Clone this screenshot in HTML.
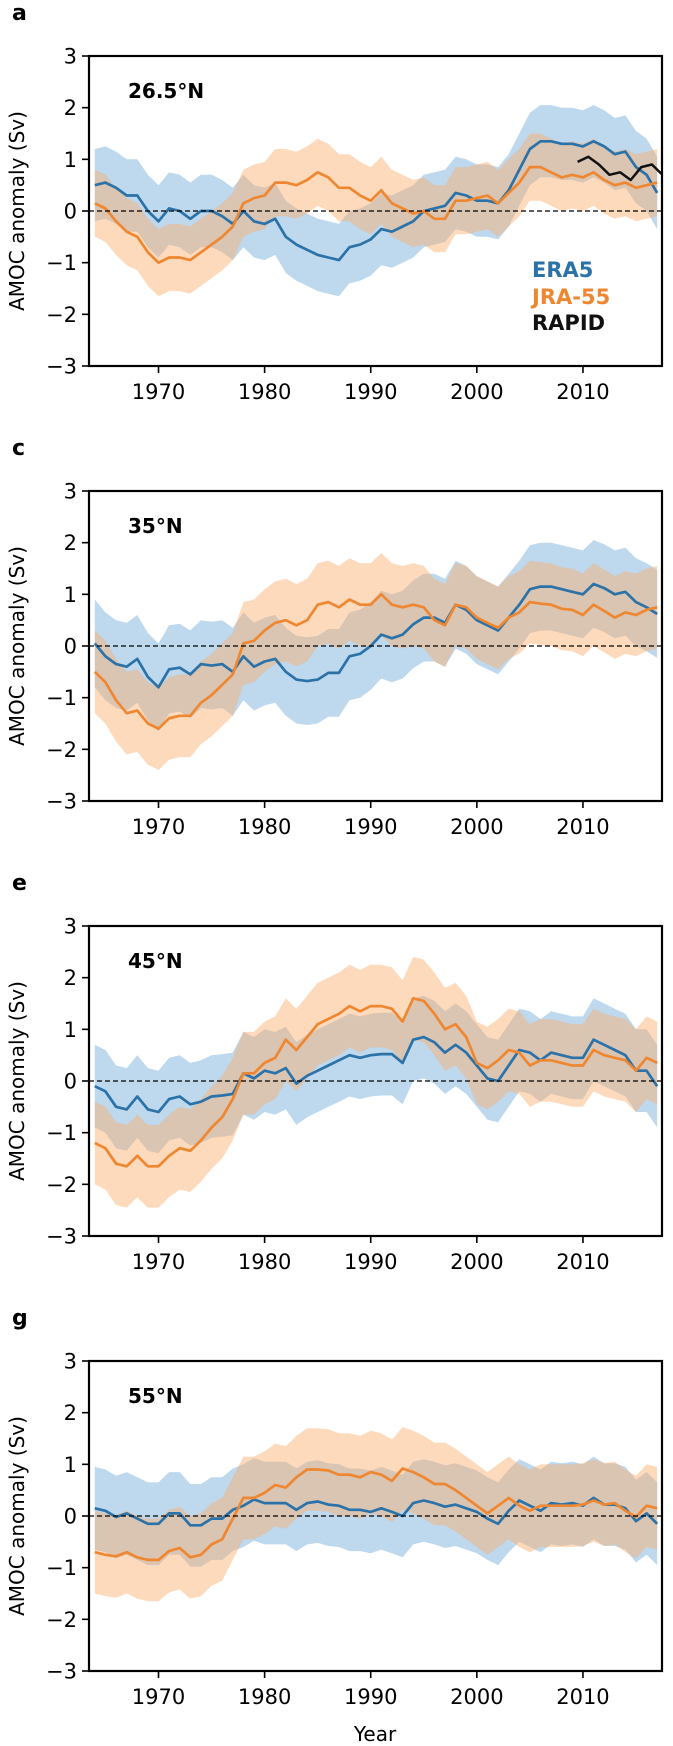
<!DOCTYPE html>
<html><head><meta charset="utf-8"><style>
body{margin:0;background:#fff;width:673px;height:1746px;overflow:hidden}
svg{display:block;font-family:"DejaVu Sans","Liberation Sans",sans-serif}
</style></head><body>
<svg id="fig" width="673" height="1746" viewBox="0 0 673 1746"></svg>
<script>
const years=[];for(let y=1964;y<=2017;y++)years.push(y);
const panelLetters=["a","c","e","g"];
const panelTitles=["26.5°N","35°N","45°N","55°N"];
const yTicks=[3,2,1,0,-1,-2,-3];
const xTicks=[1970,1980,1990,2000,2010];
const era5A=[0.5,0.55,0.45,0.3,0.3,0.0,-0.2,0.05,0.0,-0.15,0.0,0.0,-0.1,-0.25,0.0,-0.2,-0.25,-0.15,-0.5,-0.65,-0.75,-0.85,-0.9,-0.95,-0.7,-0.65,-0.55,-0.35,-0.4,-0.3,-0.2,0.0,0.05,0.1,0.35,0.3,0.2,0.2,0.15,0.4,0.8,1.2,1.35,1.35,1.3,1.3,1.25,1.35,1.25,1.1,1.15,0.85,0.7,0.35];
const jraA=[0.15,0.05,-0.2,-0.4,-0.5,-0.8,-1.0,-0.9,-0.9,-0.95,-0.8,-0.65,-0.5,-0.3,0.15,0.25,0.3,0.55,0.55,0.5,0.6,0.75,0.65,0.45,0.45,0.3,0.2,0.4,0.15,0.05,-0.05,0.0,-0.15,-0.15,0.2,0.2,0.25,0.3,0.15,0.35,0.55,0.85,0.85,0.75,0.65,0.7,0.65,0.75,0.6,0.5,0.55,0.45,0.5,0.55];
const rapidYears=[2009.5,2010.5,2011.5,2012.5,2013.5,2014.5,2015.5,2016.5,2017.5];
const rapidA=[0.95,1.05,0.9,0.7,0.75,0.6,0.85,0.9,0.7];
const era5C=[0.05,-0.2,-0.35,-0.4,-0.25,-0.6,-0.8,-0.45,-0.42,-0.55,-0.35,-0.38,-0.35,-0.5,-0.2,-0.4,-0.3,-0.25,-0.5,-0.65,-0.68,-0.65,-0.52,-0.52,-0.2,-0.15,0.0,0.22,0.15,0.22,0.42,0.55,0.55,0.45,0.8,0.7,0.5,0.4,0.3,0.55,0.8,1.1,1.15,1.15,1.1,1.05,1.0,1.2,1.12,1.0,1.05,0.85,0.75,0.62];
const jraC=[-0.5,-0.7,-1.05,-1.3,-1.25,-1.5,-1.6,-1.4,-1.35,-1.35,-1.1,-0.95,-0.75,-0.55,0.05,0.1,0.3,0.45,0.5,0.4,0.5,0.8,0.85,0.75,0.9,0.8,0.8,1.0,0.8,0.75,0.8,0.75,0.5,0.4,0.8,0.75,0.55,0.45,0.35,0.55,0.65,0.85,0.82,0.8,0.72,0.7,0.6,0.8,0.68,0.55,0.65,0.6,0.7,0.75];
const era5E=[-0.1,-0.2,-0.5,-0.55,-0.3,-0.55,-0.6,-0.35,-0.3,-0.45,-0.4,-0.3,-0.28,-0.25,0.15,0.05,0.2,0.15,0.25,-0.05,0.1,0.2,0.3,0.4,0.5,0.45,0.5,0.52,0.52,0.35,0.8,0.85,0.75,0.55,0.7,0.55,0.3,0.05,0.0,0.3,0.6,0.55,0.4,0.55,0.5,0.45,0.45,0.8,0.7,0.6,0.5,0.2,0.2,-0.1];
const jraE=[-1.2,-1.3,-1.6,-1.65,-1.45,-1.65,-1.65,-1.45,-1.3,-1.35,-1.15,-0.9,-0.7,-0.35,0.15,0.15,0.35,0.45,0.8,0.6,0.85,1.1,1.2,1.3,1.45,1.35,1.45,1.45,1.4,1.15,1.6,1.55,1.3,1.0,1.1,0.85,0.35,0.25,0.4,0.6,0.55,0.3,0.4,0.4,0.35,0.3,0.3,0.6,0.5,0.45,0.4,0.2,0.45,0.35];
const era5G=[0.15,0.1,-0.02,0.05,-0.05,-0.15,-0.15,0.05,0.05,-0.18,-0.18,-0.05,-0.05,0.12,0.2,0.32,0.25,0.25,0.25,0.12,0.25,0.28,0.22,0.2,0.12,0.12,0.08,0.15,0.08,0.0,0.25,0.3,0.25,0.18,0.22,0.15,0.08,-0.05,-0.15,0.1,0.3,0.2,0.1,0.25,0.22,0.25,0.2,0.35,0.22,0.22,0.15,-0.1,0.05,-0.15];
const jraG=[-0.7,-0.75,-0.78,-0.7,-0.8,-0.85,-0.85,-0.68,-0.62,-0.8,-0.75,-0.55,-0.45,-0.05,0.35,0.35,0.45,0.6,0.55,0.75,0.9,0.9,0.88,0.8,0.8,0.75,0.85,0.8,0.68,0.92,0.85,0.75,0.62,0.62,0.5,0.35,0.2,0.05,0.2,0.35,0.2,0.1,0.2,0.2,0.2,0.2,0.22,0.3,0.22,0.25,0.1,-0.02,0.2,0.15];
const era5Spread=[0.7,0.85,0.8,0.8];
const jraSpread=[0.65,0.8,0.8,0.8];

const NS="http://www.w3.org/2000/svg";
const svg=document.getElementById("fig");
const L=89,R=662,H=310,tops=[56,491,926,1361];
const X0=1963.45,X1=2017.45;
function el(tag,attrs,parent){const e=document.createElementNS(NS,tag);for(const k in attrs)e.setAttribute(k,attrs[k]);(parent||svg).appendChild(e);return e;}
const era5All=[era5A,era5C,era5E,era5G],jraAll=[jraA,jraC,jraE,jraG];
tops.forEach((T,p)=>{
  const xs=y=>L+(y-X0)/(X1-X0)*(R-L);
  const ys=v=>T+(3-v)/6*H;
  const g=el("g",{});
  
  
  const cp=el("clipPath",{id:"cp"+p},g);el("rect",{x:L,y:T,width:R-L,height:H},cp);
  const plot=el("g",{"clip-path":"url(#cp"+p+")"},g);
  function band(arr,sp,color,name,op){
    let d="M";years.forEach((y,i)=>{d+=xs(y).toFixed(1)+","+ys(arr[i]+sp).toFixed(1)+" L";});
    for(let i=years.length-1;i>=0;i--){d+=xs(years[i]).toFixed(1)+","+ys(arr[i]-sp).toFixed(1)+(i?" L":"");}
    const b=el("path",{d:d+"Z",fill:color,"fill-opacity":op},plot);
    
    
  }
  function line(xv,arr,color,name,w){
    const pts=xv.map((y,i)=>xs(y).toFixed(1)+","+ys(arr[i]).toFixed(1)).join(" ");
    const l=el("polyline",{points:pts,fill:"none",stroke:color,"stroke-width":w||2.7,"stroke-linejoin":"round"},plot);
    
    
  }
  const ex=years.map(y=>y);
  band(era5All[p],era5Spread[p],"#6fa8d6","era5-band",0.45);
  band(jraAll[p],jraSpread[p],"#fdae6b","jra55-band",0.45);
  line(ex,era5All[p],"#2b72a8","era5-line");
  line(ex,jraAll[p],"#ef8731","jra55-line");
  if(p===0)line(rapidYears,rapidA,"#111","rapid-line",2.5);
  const z=el("line",{x1:L,x2:R,y1:ys(0),y2:ys(0),stroke:"#000","stroke-width":1.3,"stroke-dasharray":"5,3"},g);
  
  
  const fr=el("rect",{x:L,y:T,width:R-L,height:H,fill:"none",stroke:"#000","stroke-width":2.2},g);
  
  
  yTicks.forEach(v=>{
    el("line",{x1:L-7,x2:L,y1:ys(v),y2:ys(v),stroke:"#000","stroke-width":1.6},g);
    const t=el("text",{x:L-12,y:ys(v)+7.5,"text-anchor":"end","font-size":21},g);
    t.textContent=v<0?"\u2212"+(-v):String(v);
    
    
  });
  xTicks.forEach(v=>{
    el("line",{x1:xs(v),x2:xs(v),y1:T+H,y2:T+H+7,stroke:"#000","stroke-width":1.6},g);
    const t=el("text",{x:xs(v),y:T+H+33,"text-anchor":"middle","font-size":21},g);
    t.textContent=v;
    
    
  });
  const lt=el("text",{x:12,y:T-36,"font-size":22,"font-weight":"bold"},g);
  lt.textContent=panelLetters[p];
  
  
  const ti=el("text",{x:128,y:T+42,"font-size":20,"font-weight":"bold"},g);
  ti.textContent=panelTitles[p];
  
  
  const yl=el("text",{x:0,y:0,"font-size":20,"text-anchor":"middle",transform:"translate(24,"+(T+H/2)+") rotate(-90)"},g);
  yl.textContent="AMOC anomaly (Sv)";
  
  
  if(p===0){
    [["ERA5","#2b72a8",277],["JRA-55","#ef8731",304],["RAPID","#111",330]].forEach(([n,c,yy])=>{
      const t=el("text",{x:532,y:yy,"font-size":21,"font-weight":"bold",fill:c},g);
      t.textContent=n;
      
      
    });
  }
});
const xt=el("text",{x:375,y:1741,"font-size":20,"text-anchor":"middle"});
xt.textContent="Year";


</script>
</body></html>
